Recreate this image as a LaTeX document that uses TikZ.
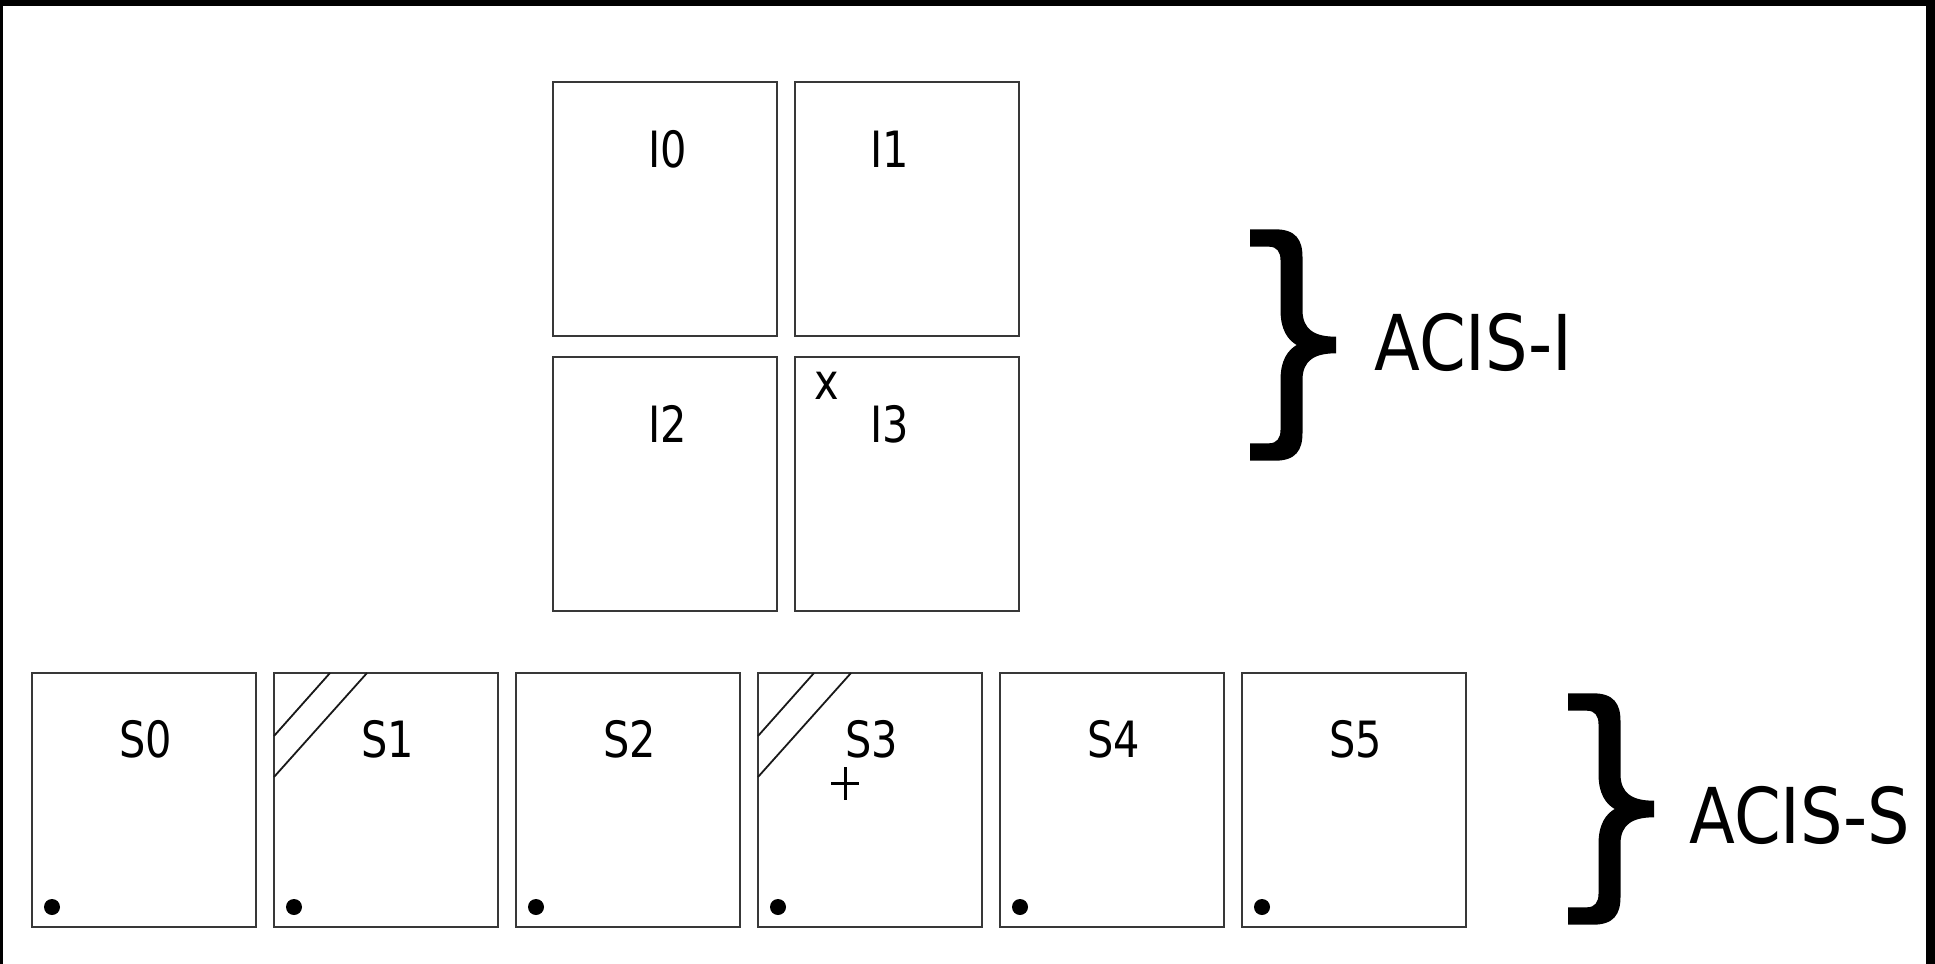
\documentclass[tikz,border=0pt]{standalone}
\usepackage{fontspec}
\newfontfamily\lblfont[FakeStretch=0.83]{DejaVu Sans}
\newfontfamily\biglblfont[FakeStretch=0.87]{DejaVu Sans}
\tikzset{
  chip/.style={draw=black!78,line width=1.15pt,minimum width=112pt,minimum height=127pt,anchor=north west,inner sep=0pt,outer sep=0pt},
  lbl/.style={font=\lblfont\fontsize{25pt}{30pt}\selectfont,anchor=base,inner sep=0pt},
  biglbl/.style={font=\biglblfont\fontsize{38.5pt}{44pt}\selectfont,anchor=base west,inner sep=0pt},
  hatch/.style={line width=0.9pt,black!90},
  ccddot/.style={fill=black},
  bigbrace/.pic={
    \fill (0,-115.7) -- (25,-115.7) .. controls (46,-115.7) and (52.5,-105) .. (52.5,-88)
      -- (52.5,-35) .. controls (52.5,-15) and (65,-8.3) .. (86,-8.3)
      -- (86,8.3) .. controls (65,8.3) and (52.5,15) .. (52.5,35)
      -- (52.5,88) .. controls (52.5,105) and (46,115.7) .. (25,115.7)
      -- (0,115.7) -- (0,98.3) -- (19,98.3) .. controls (27,98.3) and (30.5,93) .. (30.5,85)
      -- (30.5,35) .. controls (30.5,15) and (38,5) .. (46.7,0)
      .. controls (38,-5) and (30.5,-15) .. (30.5,-35)
      -- (30.5,-85) .. controls (30.5,-93) and (27,-98.3) .. (19,-98.3)
      -- (0,-98.3) -- cycle;
  }
}
\begin{document}
\begin{tikzpicture}[x=0.5pt,y=-0.5pt]
\useasboundingbox (0,0) rectangle (1935,964);
% frame
\fill (0,0) rectangle (1935,6);
\fill (0,0) rectangle (3,964);
\fill (1926,0) rectangle (1935,964);
% ACIS-I chips
\node[chip] (i0) at (553,82) {};
\node[chip] (i1) at (795,82) {};
\node[chip] (i2) at (553,357) {};
\node[chip] (i3) at (795,357) {};
\node[lbl] (li0) at (668,167) {I0};
\node[lbl] (li1) at (890,167) {I1};
\node[lbl] (li2) at (668,442) {I2};
\node[lbl] (li3) at (890,442) {I3};
\node[lbl] (xmark) at (827,399) {x};
% ACIS-S chips
\foreach \k/\x in {0/32,1/274,2/516,3/758,4/1000,5/1242}{
  \node[chip] (s\k) at (\x,673) {};
  \node[lbl] (ls\k) at ({\x+114},757) {S\k};
  \fill[ccddot] ({\x+20},907) circle (4pt);
}
% hatched corners on S1 and S3
\foreach \k in {1,3}{
  \draw[hatch] ([xshift=28pt]s\k.north west) -- ([yshift=-31.5pt]s\k.north west);
  \draw[hatch] ([xshift=46.5pt]s\k.north west) -- ([yshift=-52pt]s\k.north west);
}
% aimpoint on S3
\draw[line width=1.5pt] (831,783) -- (859,783);
\draw[line width=1.5pt] (845,767) -- (845,800);
% braces and labels
\pic at (1250,345) {bigbrace};
\node[biglbl] (acisi) at (1374,370) {ACIS-I};
\pic at (1568,809) {bigbrace};
\node[biglbl] (aciss) at (1689,843) {ACIS-S};
\end{tikzpicture}
\end{document}
